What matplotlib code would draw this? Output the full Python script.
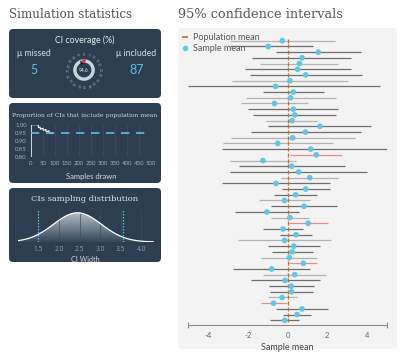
import numpy as np
import matplotlib
matplotlib.use("Agg")
import matplotlib.pyplot as plt
from matplotlib.patches import FancyBboxPatch, Wedge, Polygon
from matplotlib.lines import Line2D
from matplotlib.colors import LinearSegmentedColormap

# ─────────────────────────────────────────────────────────────────────────────
# Data
# ─────────────────────────────────────────────────────────────────────────────
sample_means = [-0.26, -0.97, 1.55, 0.73, 0.60, 0.51, 0.92, 0.12, -0.60, 0.29,
                0.15, -0.65, 0.29, 0.36, 0.22, 1.63, 0.90, 0.26, -0.49, 1.17,
                1.45, -1.24, 0.22, 0.56, 1.12, -0.58, 0.92, 0.41, -0.15, 0.83,
                -1.04, 0.12, 1.04, -0.22, 0.43, -0.15, 0.32, 0.24, 0.09, 0.80,
                -0.80, 0.36, -0.12, 0.19, 0.20, -0.27, -0.70, 0.73, 0.48, -0.14]
ci_lower = [-2.90, -2.90, -0.60, -1.79, -1.38, -2.13, -1.89, -2.80, -5.00, -1.24,
            -2.09, -2.33, -1.99, -1.75, -1.07, -0.97, -1.85, -2.87, -3.25, -3.28,
            0.15, -2.91, -2.43, -2.91, -0.32, -3.28, -0.26, -0.70, -1.44, -0.83,
            -2.64, -0.83, 0.09, -1.24, -0.36, -2.50, -1.00, -0.80, -1.34, 0.09,
            -2.77, -1.21, -1.85, -0.94, -0.90, -1.00, -1.34, -0.60, -0.22, -0.87]
ci_upper = [2.40, 1.30, 3.70, 3.21, 2.57, 3.21, 3.76, 3.04, 4.64, 1.82,
            2.43, 1.04, 2.57, 2.43, 1.51, 4.23, 3.69, 3.38, 2.30, 5.00,
            2.74, 0.43, 2.91, 4.03, 2.57, 2.16, 2.13, 1.51, 1.14, 2.50,
            0.60, 1.07, 2.03, 0.80, 1.21, 2.19, 1.65, 1.28, 1.51, 1.51,
            1.11, 1.92, 1.62, 1.34, 1.31, 0.46, -0.05, 2.03, 1.17, 0.56]
population_mean = 0.0

samples_drawn = [0, 1, 30, 31, 38, 39, 50, 51, 62, 63, 75, 76, 90]
prop_included = [0.0, 1.0, 1.0, 0.982, 0.985, 0.972, 0.978, 0.966, 0.970,
                 0.958, 0.962, 0.950, 0.946]
target_coverage = 0.95

ci_width = [1.0, 1.1, 1.2, 1.3, 1.4, 1.5, 1.6, 1.7, 1.8, 1.9, 2.0, 2.1, 2.2,
            2.3, 2.4, 2.5, 2.6, 2.7, 2.8, 2.9, 3.0, 3.1, 3.2, 3.3, 3.4, 3.5,
            3.6, 3.7, 3.8, 3.9, 4.0, 4.1, 4.2, 4.3]
ci_width_density = [0.044, 0.067, 0.098, 0.140, 0.194, 0.262, 0.342, 0.433,
                    0.534, 0.638, 0.740, 0.834, 0.911, 0.967, 0.996, 0.996,
                    0.967, 0.911, 0.834, 0.740, 0.638, 0.534, 0.433, 0.342,
                    0.262, 0.194, 0.140, 0.098, 0.067, 0.044, 0.028, 0.017,
                    0.010, 0.006]
width_quantiles = [1.5, 3.55]

coverage_pct = 94.6
n_missed = 5
n_included = 87
gauge_labels = list(range(0, 100, 5))

# ─────────────────────────────────────────────────────────────────────────────
# Style
# ─────────────────────────────────────────────────────────────────────────────
plt.rcParams["font.family"] = ["Lato", "DejaVu Sans"]
plt.rcParams["axes.unicode_minus"] = False
SERIF = ["DejaVu Serif"]
NAVY = "#2c3e50"
CYAN = "#5bc0de"
DOT = "#62c6e6"
ORANGE = "#d2691e"
LIGHT_ROWS = {1, 5, 8, 11, 12, 15, 18, 19, 22, 25, 29, 32, 36, 39, 42, 46}

W, H = 400, 353
fig = plt.figure(figsize=(W / 100, H / 100), dpi=100)


def px_axes(x0, y0, x1, y1):
    return fig.add_axes([x0 / W, 1 - y1 / H, (x1 - x0) / W, (y1 - y0) / H])


def px_text(x, y, s, **kw):
    kw.setdefault("ha", "center")
    kw.setdefault("va", "center")
    fig.text(x / W, 1 - y / H, s, **kw)


def px_box(x0, y0, x1, y1, color):
    box = FancyBboxPatch((x0 / 100, (H - y1) / 100), (x1 - x0) / 100, (y1 - y0) / 100,
                         boxstyle="round,pad=0,rounding_size=0.04",
                         transform=fig.dpi_scale_trans, fc=color, ec="none", zorder=-10)
    fig.add_artist(box)


# headings and panel backgrounds
px_text(9, 15, "Simulation statistics", ha="left", family=SERIF, fontsize=8.6, color="#555555")
px_text(178, 15, "95% confidence intervals", ha="left", family=SERIF, fontsize=9.3, color="#555555")
px_box(9, 29, 161, 98, NAVY)
px_box(9, 103, 161, 183, NAVY)
px_box(9, 188, 161, 262, NAVY)
px_box(178, 28, 397, 349, "#f3f3f3")

# ── panel 1: coverage gauge ────────────────────────────────────────────────
px_text(85, 40, "CI coverage (%)", fontsize=6.3, color="#e6ecf0")
px_text(34, 53, "\u03bc missed", fontsize=6.3, color="#d5dde4")
px_text(136, 53, "\u03bc included", fontsize=6.3, color="#d5dde4")
px_text(34, 70, str(n_missed), fontsize=9, color=CYAN)
px_text(137, 70, str(n_included), fontsize=9, color=CYAN)

gax = px_axes(63, 49, 105, 91)
gax.set_xlim(-21, 21)
gax.set_ylim(-21, 21)
gax.set_aspect("equal")
gax.axis("off")


def pct_angle(p):
    return 90 - p * 3.6


gax.add_patch(Wedge((0, 0), 10.8, 0, 360, width=3.4, fc="#c6d5de", ec="none"))
gax.add_patch(Wedge((0, 0), 10.8, pct_angle(103), pct_angle(97), width=3.4, fc="#e8302a", ec="none"))
a = np.radians(pct_angle(coverage_pct))
da = np.radians(14)
gax.add_patch(Polygon([[10.5 * np.cos(a), 10.5 * np.sin(a)],
                       [6.3 * np.cos(a - da), 6.3 * np.sin(a - da)],
                       [6.3 * np.cos(a + da), 6.3 * np.sin(a + da)]],
                      closed=True, fc="black", ec="none"))
for g in gauge_labels:
    t = pct_angle(g)
    gax.text(15.5 * np.cos(np.radians(t)), 15.5 * np.sin(np.radians(t)), str(g),
             rotation=t - 90, ha="center", va="center", fontsize=2.6, color="#95a8b6")
gax.text(0, 0, f"{coverage_pct:.1f}", ha="center", va="center", fontsize=3.5, color="#e6ecf0")

# ── panel 2: running proportion ────────────────────────────────────────────
px_text(85, 115, "Proportion of CIs that include population mean", family=SERIF,
        fontsize=4.4, color="#d0d8e0")
pax = px_axes(31, 124.7, 151, 157)
pax.set_facecolor("none")
pax.plot(samples_drawn, prop_included, color="white", lw=0.8)
pax.axhline(target_coverage, color=CYAN, lw=1.2, dashes=(5, 4))
pax.set_xlim(0, 500)
pax.set_ylim(0.80, 1.0)
pax.set_xticks(range(0, 501, 50))
pax.set_yticks([0.80, 0.85, 0.90, 0.95, 1.00])
pax.set_yticklabels([f"{v:.2f}" for v in [0.80, 0.85, 0.90, 0.95, 1.00]])
pax.grid(axis="x", color="#3b4f63", lw=0.5)
pax.tick_params(length=0, labelsize=4.3, colors="#9fb0bf", pad=3)
for s in pax.spines.values():
    s.set_visible(False)
pax.set_xlabel("Samples drawn", fontsize=5.5, color="#d0d8e0", labelpad=5)

# ── panel 3: CI width distribution ─────────────────────────────────────────
px_text(85, 199, "CIs sampling distribution", family=SERIF, fontsize=6.0, color="#e0e6ea")
dax = px_axes(17.7, 209.8, 153.7, 242)
dax.set_facecolor("none")
dax.set_xlim(1.0, 4.3)
dax.set_ylim(0, 1.1)
grad = LinearSegmentedColormap.from_list("g", ["#34475a", "#b4bec8"])
poly = dax.fill_between(ci_width, 0, ci_width_density, color="none")
img = dax.imshow(np.linspace(0, 1, 100).reshape(-1, 1), cmap=grad, aspect="auto",
                 extent=(1.0, 4.3, 0, 1.0), origin="lower", zorder=1)
img.set_clip_path(poly.get_paths()[0], transform=dax.transData)
dax.plot(ci_width, ci_width_density, color="white", lw=0.9, zorder=3)
for q in width_quantiles:
    dax.axvline(q, color=CYAN, lw=0.9, ls=(0, (1.2, 1.2)), zorder=4)
dax.set_xticks([1.5, 2.0, 2.5, 3.0, 3.5, 4.0])
dax.set_xticklabels(["1.5", "2.0", "2.5", "3.0", "3.5", "4.0"], family=["Open Sans"])
dax.set_yticks([])
dax.grid(axis="x", color="#3b4f63", lw=0.5, zorder=0)
dax.tick_params(length=0, labelsize=4.8, colors="#8fa1b1", pad=3)
for s in dax.spines.values():
    s.set_visible(False)
dax.set_xlabel("CI Width", fontsize=5.2, color="#d0d8e0", labelpad=2)

# ── right: confidence intervals ────────────────────────────────────────────
rows = np.arange(1, len(sample_means) + 1)
ax = px_axes(188.3, 30, 386.7, 325)
ax.set_facecolor("none")
for r, lo, hi in zip(rows, ci_lower, ci_upper):
    if lo > population_mean or hi < population_mean:
        c = "#f08a84"
    elif r in LIGHT_ROWS:
        c = "#b3b3b3"
    else:
        c = "#6e6e6e"
    ax.plot([lo, hi], [r, r], color=c, lw=0.9, solid_capstyle="butt", zorder=1)
ax.scatter(np.full(len(rows), population_mean), rows, marker="|", s=5, lw=0.9,
           color=ORANGE, zorder=2)
ax.scatter(sample_means, rows, s=17, color=DOT, edgecolors="none", zorder=3)
ax.set_xlim(-5, 5)
ax.set_ylim(50.82, -0.88)
ax.set_xticks([-4, -2, 0, 2, 4])
ax.set_xticks([-5, 5], minor=True)
ax.set_yticks([])
for k in ["top", "left", "right"]:
    ax.spines[k].set_visible(False)
ax.spines["bottom"].set_color("#8a8a8a")
ax.spines["bottom"].set_linewidth(0.8)
ax.tick_params(axis="x", which="major", length=0, labelsize=5.5, colors="#666666", pad=5)
ax.tick_params(axis="x", which="minor", length=4, width=0.8, direction="inout", color="#8a8a8a")
ax.set_xlabel("Sample mean", fontsize=6.5, color="#444444", labelpad=3)

handles = [Line2D([], [], color=ORANGE, marker="_", ls="none", markersize=5, mew=1.2),
           Line2D([], [], color=DOT, marker="o", ls="none", markersize=4, mec="none")]
ax.legend(handles, ["Population mean", "Sample mean"], loc="upper left",
          bbox_to_anchor=(-0.06, 1.01), frameon=False, fontsize=6.5, labelcolor="#555555",
          handlelength=0.6, handletextpad=0.5, borderpad=0.2, labelspacing=0.15)

fig.savefig("out.png", dpi=100)
